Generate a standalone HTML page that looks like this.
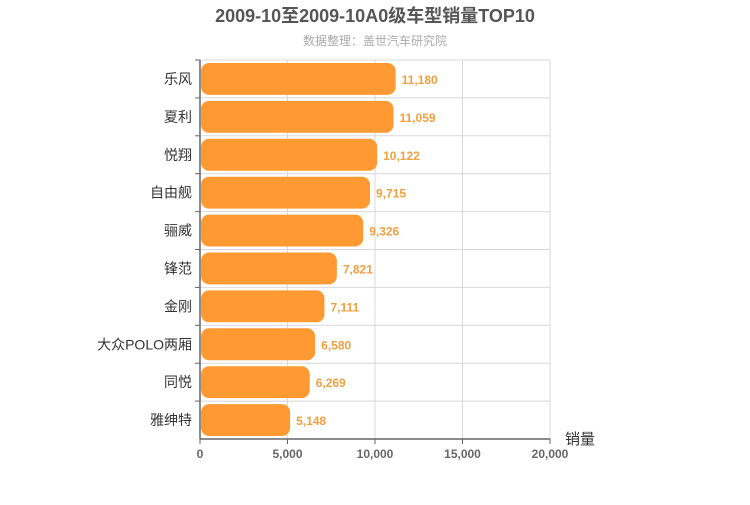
<!DOCTYPE html>
<html><head><meta charset="utf-8"><style>
body{margin:0;background:#fff;font-family:"Liberation Sans","Noto Sans CJK SC",sans-serif}
</style></head><body>
<svg width="750" height="500" xmlns="http://www.w3.org/2000/svg" style="font-family:'Liberation Sans','Noto Sans CJK SC',sans-serif">
<text x="375" y="22" text-anchor="middle" font-size="18" font-weight="bold" fill="#555">2009-10至2009-10A0级车型销量TOP10</text>
<text x="375" y="45" text-anchor="middle" font-size="12" fill="#aaa">数据整理：盖世汽车研究院</text>
<g id="grid"></g><g id="bars"></g><g id="axes"></g>
<text x="580" y="444" text-anchor="middle" font-size="15" fill="#333">销量</text>
</svg>
<script>
const categories=["乐风","夏利","悦翔","自由舰","骊威","锋范","金刚","大众POLO两厢","同悦","雅绅特"];
const values=[11180,11059,10122,9715,9326,7821,7111,6580,6269,5148];
const ticks=[0,5000,10000,15000,20000];
const NS="http://www.w3.org/2000/svg";
const x0=200,x1=550,y0=60,y1=439,xmax=20000;
const rowH=(y1-y0)/categories.length;
const xs=v=>x0+(x1-x0)*v/xmax;
const fmt=v=>v.toLocaleString('en-US');
function mk(tag,attrs,parent,txt){const e=document.createElementNS(NS,tag);for(const k in attrs)e.setAttribute(k,attrs[k]);if(txt!==undefined)e.textContent=txt;parent.appendChild(e);return e;}
const grid=document.getElementById('grid'),bars=document.getElementById('bars'),axes=document.getElementById('axes');
ticks.forEach((t,i)=>{
 if(i>0){const l=mk('line',{x1:xs(t),x2:xs(t),y1:y0,y2:y1,stroke:'#d8d8d8'},grid);
 
 }
 const tk=mk('line',{x1:xs(t),x2:xs(t),y1:y1,y2:y1+5,stroke:'#666'},axes);
 
 
 const tx=mk('text',{x:xs(t),y:y1+19,'text-anchor':'middle','font-size':12,'font-weight':'bold',fill:'#666'},axes,fmt(t));
 
 
});
for(let i=0;i<categories.length;i++){
 const yt=y0+i*rowH;
 const g=mk('line',{x1:x0,x2:x1,y1:yt,y2:yt,stroke:'#d8d8d8'},grid);
 
 
 const tk=mk('line',{x1:x0-5,x2:x0,y1:yt,y2:yt,stroke:'#666'},axes);
 
 
}
categories.forEach((c,i)=>{
 const yt=y0+i*rowH;
 const b=mk('rect',{x:x0+1,y:yt+3,width:xs(values[i])-x0-1,height:rowH-6,rx:8,fill:'#ff9a33'},bars);
 
 
 const v=mk('text',{x:xs(values[i])+6,y:yt+rowH/2+5,'font-size':12,'font-weight':'bold',fill:'#f0a040'},bars,fmt(values[i]));
 
 
 const l=mk('text',{x:x0-8,y:yt+rowH/2+5,'text-anchor':'end','font-size':14,fill:'#333'},axes,c);
 
 
});
const ya=mk('line',{x1:x0,x2:x0,y1:y0,y2:y1,stroke:'#666','stroke-width':1.5},axes);


const xa=mk('line',{x1:x0,x2:x1,y1:y1,y2:y1,stroke:'#666','stroke-width':1.5},axes);


</script>
</body></html>
